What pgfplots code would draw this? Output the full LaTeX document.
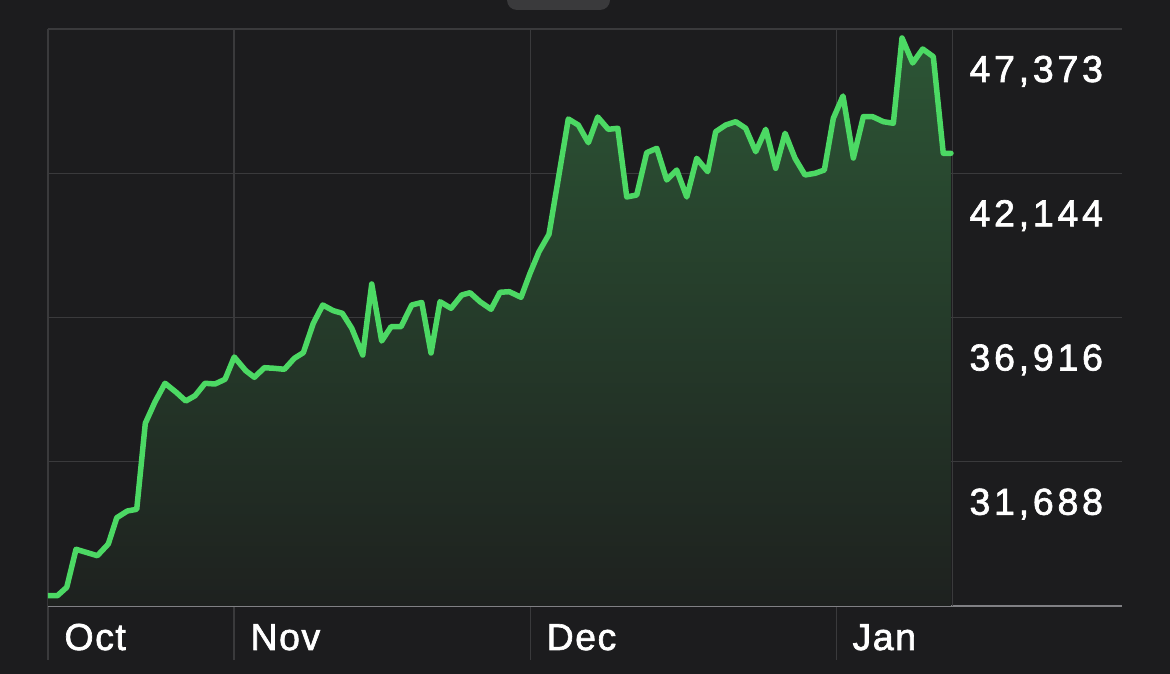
\documentclass[border=0pt]{standalone}
\usepackage{pgfplots}
\pgfplotsset{compat=1.18}
\usepackage{pgfplotstable}
\usepackage{fontspec}
\setmainfont{Liberation Sans}
\newfontfamily\lbl{Liberation Sans}[FakeBold=1.8,LetterSpace=4]
\newfontfamily\lbly{Liberation Sans}[FakeBold=1.8,LetterSpace=10]
\definecolor{bg}{HTML}{1C1C1E}
\definecolor{gridgray}{HTML}{3A3A3C}
\definecolor{axisgray}{HTML}{808084}
\definecolor{grabber}{HTML}{3A3A3C}
\definecolor{linegreen}{HTML}{4CD964}
\definecolor{filltop}{HTML}{2C5535}
\definecolor{fillbot}{HTML}{1E211F}

\pgfplotstableread{
x y
12.15 26833
13.10 26833
14.05 27138
14.99 28515
17.15 28283
18.26 28707
19.12 29660
20.19 29903
21.14 29965
22.01 33082
23.00 33865
24.01 34532
25.19 34191
26.11 33890
27.05 34082
28.06 34532
29.07 34506
30.09 34677
31.02 35485
32.19 34988
33.06 34749
34.07 35097
35.08 35075
36.10 35039
37.11 35438
38.02 35641
39.03 36706
39.99 37369
41.06 37163
41.97 37069
42.93 36525
44.04 35557
44.95 38131
45.96 36065
46.91 36583
47.92 36583
49.00 37369
50.02 37460
50.96 35630
51.87 37489
52.99 37250
54.07 37732
54.91 37815
55.92 37489
57.04 37214
57.95 37830
58.89 37852
60.08 37649
60.99 38518
61.90 39301
62.91 39932
64.87 44111
65.88 43893
66.90 43252
67.85 44183
68.92 43737
69.88 43774
70.79 41284
71.80 41356
72.81 42889
73.83 43049
74.84 41900
75.85 42262
76.87 41284
77.88 42686
78.99 42201
79.80 43651
80.82 43893
81.83 44013
82.84 43774
83.86 42926
84.87 43737
85.88 42324
86.83 43593
87.84 42686
88.85 42081
89.87 42143
90.81 42262
91.72 44136
92.70 44944
93.75 42697
94.76 44194
95.71 44194
96.79 44013
97.80 43955
98.68 47047
99.76 46140
100.78 46648
101.85 46369
102.86 42868
103.64 42868
}\btc

\begin{document}
\begin{tikzpicture}
\useasboundingbox (0,0) rectangle (468pt,269.6pt);
\fill[bg] (0,0) rectangle (468pt,269.6pt);
\fill[grabber, rounded corners=4pt] (202.8pt,265.6pt) rectangle (244pt,280pt);
\begin{axis}[
  scale only axis,
  width=429.6pt, height=252.4pt,
  at={(19.2pt,5.6pt)}, anchor=south west,
  xmin=12.15, xmax=120.97, ymin=24503, ymax=47373,
  scaled y ticks=false, scaled x ticks=false,
  axis line style={draw=none},
  xtick={12.15,31,61,92},
  xticklabels={Oct,Nov,Dec,Jan},
  ytick={31688,36916,42144,47373},
  yticklabels={{31,688},{36,916},{42,144},{47,373}},
  extra y ticks={26460},
  extra y tick labels={},
  extra y tick style={grid style={draw=axisgray, line width=0.8pt}},
  grid=major,
  grid style={draw=gridgray, line width=0.45pt},
  major tick length=0pt,
  tick style={draw=none},
  tick label style={text=white, inner sep=0pt},
  xticklabel style={font=\lbl\fontsize{15}{18}\selectfont, anchor=base west, xshift=6.4pt, yshift=4pt},
  yticklabel pos=right,
  yticklabel style={font=\lbly\fontsize{15}{18}\selectfont, anchor=base west, xshift=-61.2pt, yshift=-21.2pt},
]
\addplot[gridgray, line width=0.45pt, forget plot] coordinates {(103.75,26460) (103.75,47373)};
\addplot[draw=none, top color=filltop, bottom color=fillbot, forget plot] table[x=x,y=y] {\btc} |- (axis cs:12.15,26460) -- cycle;
\addplot[linegreen, line width=2.2pt, line join=round, line cap=round] table[x=x,y=y] {\btc};
\end{axis}
\end{tikzpicture}
\end{document}
